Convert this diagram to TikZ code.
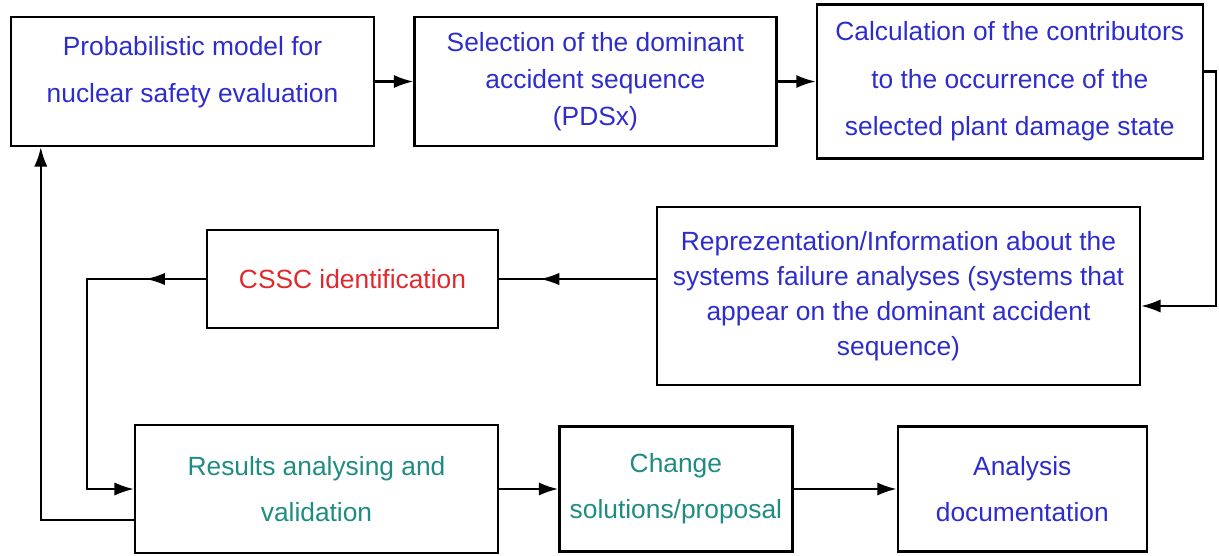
\documentclass[tikz,border=0pt]{standalone}
\usepackage{fontspec}
\setmainfont{Liberation Sans}
\usetikzlibrary{positioning, arrows.meta, decorations.markings}
\definecolor{stepblue}{RGB}{45,45,205}
\definecolor{stepred}{RGB}{225,40,45}
\definecolor{stepteal}{RGB}{30,140,130}

\begin{document}
\begin{tikzpicture}[
x=0.02cm, y=-0.02cm,
box/.style={rectangle, draw, line width=1.4pt, align=center, inner sep=2pt, text=stepblue, font=\fontsize{15}{26}\selectfont},
arrow/.style={-{Latex[length=11pt,width=7.5pt]}, line width=1.2pt},
line/.style={line width=1.2pt},
midarrow/.style={postaction={decorate}, decoration={markings, mark=at position #1 with {\arrow{Latex[length=11pt,width=7pt]}}}},
node distance=0.76cm
]
\path[use as bounding box] (0,0) rectangle (1219,555);

% --- Ligne du haut ---
\node[box, minimum width=7.26cm, minimum height=2.58cm, font=\fontsize{15}{27}\selectfont] (model) at (192.5,81.5) {Probabilistic model for\\nuclear safety evaluation\\[-13pt]\mbox{}};
\node[box, minimum width=7.24cm, minimum height=2.58cm, font=\fontsize{15}{21}\selectfont, right=of model] (select) {Selection of the dominant\\accident sequence\\(PDSx)};
\node[box, minimum width=7.72cm, minimum height=3.08cm, font=\fontsize{15}{27}\selectfont, right=of select] (calc) {Calculation of the contributors\\to the occurrence of the\\selected plant damage state};

% --- Ligne du milieu ---
\node[box, minimum width=9.66cm, minimum height=3.56cm, font=\fontsize{15}{20}\selectfont] (repr) at (898.5,296) {Reprezentation/Information about the\\systems failure analyses (systems that\\appear on the dominant accident\\sequence)};
\node[box, minimum width=5.82cm, minimum height=1.96cm, text=stepred] (cssc) at (352.5,279) {CSSC identification};

% --- Ligne du bas ---
\node[box, minimum width=7.26cm, minimum height=2.56cm, text=stepteal] (results) at (316.5,489) {Results analysing and\\validation};
\node[box, minimum width=4.66cm, minimum height=2.5cm, text=stepteal, right=1.18cm of results] (change) {Change\\solutions/proposal};
\node[box, minimum width=4.98cm, minimum height=2.5cm, right=2.06cm of change] (doc) {Analysis\\documentation};

% --- Points de passage ---
\coordinate (bend) at (1216,200);
\coordinate[left=2.38cm of cssc.west] (loop);

% --- Flèches ---
\draw[arrow] (model.east) -- (model.east -| select.west);
\draw[arrow] (select.east) -- (select.east -| calc.west);
\draw[arrow] ([yshift=0.2cm]calc.east) -| (bend) |- ([yshift=-0.2cm]repr.east);
\draw[line, midarrow=0.74] (repr.west |- cssc.east) -- (cssc.east);
\draw[arrow, midarrow=0.16] (cssc.west) -- (loop) |- (results.west);
\draw[arrow] (results.east) -- (change.west);
\draw[arrow] (change.east) -- (doc.west);
\draw[arrow] ([yshift=-0.62cm]results.west) -| ([xshift=0.62cm]model.south west);

\end{tikzpicture}
\end{document}
